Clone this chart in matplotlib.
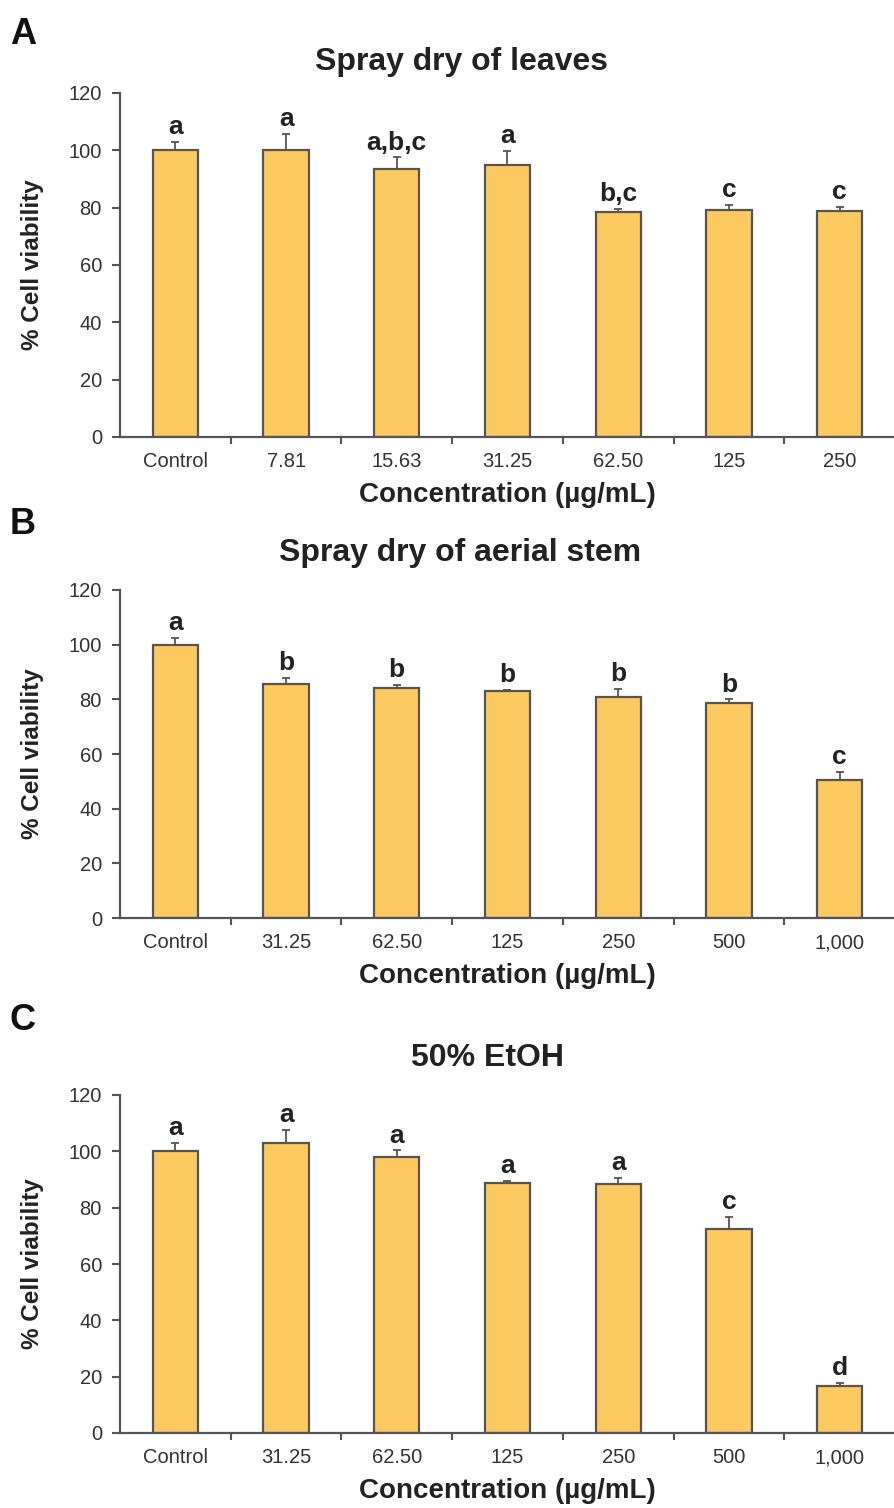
import numpy as np
import matplotlib.pyplot as plt

plt.rcParams['font.family'] = ['Liberation Sans', 'DejaVu Sans']

#? Datos
cats_a = ["Control", "7.81", "15.63", "31.25", "62.50", "125", "250"]
vals_a = [100, 100, 93.5, 95, 78.5, 79.2, 78.8]
err_a = [3, 5.7, 4, 4.9, 1, 1.8, 1.4]
sig_a = ["a", "a", "a,b,c", "a", "b,c", "c", "c"]

cats_b = ["Control", "31.25", "62.50", "125", "250", "500", "1,000"]
vals_b = [100, 85.6, 84.1, 83, 80.8, 78.6, 50.5]
err_b = [2.5, 2.2, 1.1, 0.5, 2.9, 1.4, 2.9]
sig_b = ["a", "b", "b", "b", "b", "b", "c"]

cats_c = ["Control", "31.25", "62.50", "125", "250", "500", "1,000"]
vals_c = [100, 103.1, 98, 88.8, 88.4, 72.4, 16.7]
err_c = [3, 4.6, 2.3, 0.7, 2.1, 4.3, 1]
sig_c = ["a", "a", "a", "a", "a", "c", "d"]

paneles = [
    ("A", "Spray dry of leaves", cats_a, vals_a, err_a, sig_a),
    ("B", "Spray dry of aerial stem", cats_b, vals_b, err_b, sig_b),
    ("C", "50% EtOH", cats_c, vals_c, err_c, sig_c),
]

W, H = 895, 1508
#! posiciones en pixeles: (top, bottom) del eje, y de letra, y de titulo, x titulo
cajas = [(93, 437, 35, 62, 462), (590, 918, 525, 553, 460), (1095, 1433, 1020, 1058, 488)]

fig = plt.figure(figsize=(W / 100, H / 100), dpi=100)
barra = "#FDC961"
borde = "#555555"
gris = "#333333"

for (letra, titulo, cats, vals, errs, sigs), (top, bot, ly, ty, tx) in zip(paneles, cajas):
    ax = fig.add_axes([120 / W, 1 - bot / H, 775 / W, (bot - top) / H])
    x = np.arange(len(cats))
    ax.bar(x, vals, width=0.41, color=barra, edgecolor=borde, linewidth=1.6, zorder=2)
    ax.errorbar(x, vals, yerr=[np.zeros(len(errs)), errs], fmt="none",
                ecolor=borde, elinewidth=1.3, capsize=3, capthick=1.3, zorder=3)
    for xi, v, e, s in zip(x, vals, errs, sigs):
        ax.text(xi, v + e + 1.0, s, ha="center", va="bottom", fontsize=19,
                fontweight="bold", color="#222222")
    ax.set_xlim(-0.5, 6.5)
    ax.set_ylim(0, 120)
    ax.set_yticks(np.arange(0, 121, 20))
    ax.set_xticks(x)
    ax.set_xticklabels(cats)
    ax.set_xticks(np.arange(0.5, 6.5, 1), minor=True)
    ax.tick_params(axis="x", which="major", length=0, pad=11, labelsize=14.5, labelcolor=gris)
    ax.tick_params(axis="x", which="minor", length=5, width=1.5, color=borde)
    ax.tick_params(axis="y", length=6, width=1.5, color=borde, labelsize=14.5, labelcolor=gris, pad=7)
    for lado in ["top", "right"]:
        ax.spines[lado].set_visible(False)
    for lado in ["left", "bottom"]:
        ax.spines[lado].set_color(borde)
        ax.spines[lado].set_linewidth(1.6)
    ax.set_xlabel("Concentration (µg/mL)", fontsize=20, fontweight="bold", color="#222222", labelpad=8)
    fig.text(33 / W, 1 - (top + bot) / 2 / H, "% Cell viability", rotation=90, ha="center",
             va="center", fontsize=17.5, fontweight="bold", color="#222222")
    fig.text(tx / W, 1 - ty / H, titulo, ha="center", va="center", fontsize=23,
             fontweight="bold", color="#222222")
    fig.text(10 / W, 1 - ly / H, letra, ha="left", va="center", fontsize=26,
             fontweight="bold", color="#111111")

plt.savefig("out.png", dpi=100)
